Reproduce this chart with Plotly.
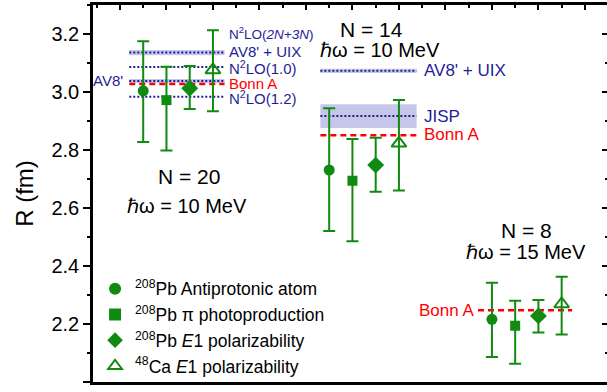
import plotly.graph_objects as go

# Experimental radii (fm) for the three shell groups: N = 20, N = 14, N = 8
groups = ["N = 20", "N = 14", "N = 8"]
hw_labels = ["ℏω = 10 MeV", "ℏω = 10 MeV", "ℏω = 15 MeV"]

x_antiprotonic = [1, 9, 16]
x_photo = [2, 10, 17]
x_pb_e1 = [3, 11, 18]
x_ca_e1 = [4, 12, 19]

r_antiprotonic = [3.004, 2.731, 2.216]
up_antiprotonic = [0.171, 0.213, 0.126]
dn_antiprotonic = [0.176, 0.210, 0.130]

r_photo = [2.972, 2.694, 2.194]
up_photo = [0.115, 0.144, 0.086]
dn_photo = [0.174, 0.209, 0.131]

r_pb_e1 = [3.013, 2.748, 2.228]
up_pb_e1 = [0.077, 0.094, 0.055]
dn_pb_e1 = [0.072, 0.092, 0.057]

r_ca_e1 = [3.076, 2.823, 2.269]
up_ca_e1 = [0.137, 0.149, 0.094]
dn_ca_e1 = [0.142, 0.163, 0.105]

# Theory predictions per group
n20_names = ["N<sup>2</sup>LO(<i>2N+3N</i>)", "AV8' + UIX", "N<sup>2</sup>LO(1.0)", "AV8'", "Bonn A", "N<sup>2</sup>LO(1.2)"]
n20_values = [3.138, 3.136, 3.086, 3.038, 3.028, 2.984]
n20_err = [0.0, 0.009, 0.0, 0.007, 0.0, 0.0]
n20_kind = ["dot", "band", "dot", "band", "dash", "dot"]

n14_names = ["AV8' + UIX", "JISP", "Bonn A"]
n14_values = [3.073, 2.917, 2.851]
n14_err = [0.0075, 0.041, 0.0]
n14_kind = ["band", "band", "dash"]

n8_names = ["Bonn A"]
n8_values = [2.247]
n8_err = [0.0]
n8_kind = ["dash"]

y_ticks = [2.0, 2.2, 2.4, 2.6, 2.8, 3.0, 3.2]

GREEN = "#118a11"
NAVY = "#1e1e96"
BAND = "#c6c6e8"
RED = "#ff0000"
FONT = "Liberation Sans, Arial, sans-serif"

fig = go.Figure()

spans = [(0.4, 4.5), (8.62, 12.76), (15.4, 19.45)]
theory = [
    (n20_names, n20_values, n20_err, n20_kind),
    (n14_names, n14_values, n14_err, n14_kind),
    (n8_names, n8_values, n8_err, n8_kind),
]

for (x0, x1), (names, vals, errs, kinds) in zip(spans, theory):
    for name, v, e, k in zip(names, vals, errs, kinds):
        if k == "band" and e > 0:
            fig.add_trace(go.Scatter(
                x=[x0, x1, x1, x0, x0], y=[v - e, v - e, v + e, v + e, v - e],
                mode="lines", fill="toself", fillcolor=BAND,
                line=dict(width=0, color=BAND), showlegend=False, hoverinfo="skip"))
        if k == "dash":
            line = dict(color=RED, width=2.5, dash="6px,4px")
        else:
            line = dict(color=NAVY, width=2, dash="2px,2px")
        fig.add_trace(go.Scatter(x=[x0, x1], y=[v, v], mode="lines", line=line,
                                 showlegend=False, hoverinfo="skip"))

series = [
    ("<sup>208</sup>Pb Antiprotonic atom", x_antiprotonic, r_antiprotonic, up_antiprotonic, dn_antiprotonic,
     dict(symbol="circle", size=11, color=GREEN)),
    ("<sup>208</sup>Pb π photoproduction", x_photo, r_photo, up_photo, dn_photo,
     dict(symbol="square", size=10, color=GREEN)),
    ("<sup>208</sup>Pb <i>E</i>1 polarizability", x_pb_e1, r_pb_e1, up_pb_e1, dn_pb_e1,
     dict(symbol="diamond", size=13, color=GREEN)),
    ("<sup>48</sup>Ca <i>E</i>1 polarizability", x_ca_e1, r_ca_e1, up_ca_e1, dn_ca_e1,
     dict(symbol="triangle-up-open", size=13, color=GREEN, line=dict(width=2, color=GREEN))),
]

for i, (name, xs, ys, up, dn, marker) in enumerate(series):
    fig.add_trace(go.Scatter(
        x=xs, y=ys, mode="markers", name=name, marker=marker, legendgroup=f"g{i}",
        error_y=dict(type="data", symmetric=False, array=up, arrayminus=dn,
                     color=GREEN, thickness=2, width=6)))

# Empty trace carrying the right-hand ticks
fig.add_trace(go.Scatter(x=[None], y=[None], yaxis="y2", showlegend=False))

ann = []
def label(x, y, text, color=NAVY, size=15, xanchor="left"):
    ann.append(dict(x=x, y=y, text=text, showarrow=False, xanchor=xanchor, yanchor="middle",
                    font=dict(family=FONT, size=size, color=color)))

# N = 20 theory labels
label(4.6, 3.203, n20_names[0], size=13.5)
label(4.6, 3.141, n20_names[1])
label(4.6, 3.084, n20_names[2])
label(4.6, 3.030, n20_names[4], color=RED)
label(4.6, 2.980, n20_names[5])
label(0.2, 3.040, n20_names[3], xanchor="right")
# N = 14 theory labels
label(12.98, 3.073, n14_names[0], size=17)
label(12.98, 2.917, n14_names[1], size=17)
label(12.98, 2.852, n14_names[2], color=RED, size=17)
# N = 8 theory label
label(15.32, 2.247, n8_names[0], color=RED, size=17, xanchor="right")

# Group captions
caption_pos = [((2.95, 2.707), (2.9, 2.607)), ((10.84, 3.214), (11.18, 3.145)), ((17.5, 2.524), (17.46, 2.448))]
for g, h, ((gx, gy), (hx, hy)) in zip(groups, hw_labels, caption_pos):
    ann.append(dict(x=gx, y=gy, text=g, showarrow=False, xanchor="center", yanchor="middle",
                    font=dict(family=FONT, size=21, color="black")))
    ann.append(dict(x=hx, y=hy, text=h, showarrow=False, xanchor="center", yanchor="middle",
                    font=dict(family=FONT, size=20, color="black")))

fig.update_layout(
    width=607, height=392,
    margin=dict(l=93, r=0, t=5, b=10),
    paper_bgcolor="white", plot_bgcolor="white",
    font=dict(family=FONT, color="black"),
    annotations=ann,
    showlegend=True,
    legend=dict(x=0.004, y=0.295, xanchor="left", yanchor="top",
                bgcolor="rgba(0,0,0,0)", font=dict(family=FONT, size=17.5, color="black"),
                tracegroupgap=0, itemsizing="constant"),
    xaxis=dict(range=[-1.16, 20.95], side="top", showline=True, mirror=True,
               linecolor="black", linewidth=2.5, ticks="inside", ticklen=5, tickwidth=2,
               tickcolor="black", dtick=2, tick0=0, showticklabels=False, showgrid=False,
               zeroline=False,
               minor=dict(ticks="inside", ticklen=3, tickwidth=2, dtick=1, tick0=0,
                          tickcolor="black", showgrid=False)),
    yaxis=dict(range=[2.0, 3.3], showline=True, linecolor="black", linewidth=2.5,
               ticks="outside", ticklen=7, tickwidth=2, tickcolor="black",
               tickvals=y_ticks, ticktext=[f"{v:.1f}" for v in y_ticks],
               tickfont=dict(family=FONT, size=20, color="black"),
               showgrid=False, zeroline=False,
               minor=dict(ticks="outside", ticklen=3, tickwidth=2, dtick=0.1, tick0=2.0,
                          tickcolor="black", showgrid=False),
               title=dict(text="R (fm)", font=dict(family=FONT, size=24, color="black"), standoff=12)),
    yaxis2=dict(range=[2.0, 3.3], overlaying="y", side="right", showline=False,
                ticks="inside", ticklen=5, tickwidth=2, tickcolor="black",
                tickvals=y_ticks, showticklabels=False, showgrid=False, zeroline=False,
                minor=dict(ticks="inside", ticklen=2, tickwidth=2, dtick=0.1, tick0=2.0,
                           tickcolor="black", showgrid=False)),
)

fig.write_html("out.html")
